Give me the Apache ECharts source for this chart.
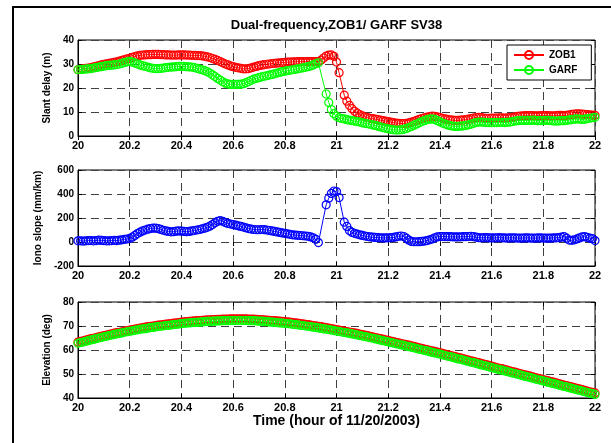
<!DOCTYPE html>
<html>
<head>
<meta charset="utf-8">
<script src="https://cdn.jsdelivr.net/npm/echarts@6/dist/echarts.min.js"></script>
<style>
html, body { margin: 0; padding: 0; background: #fff; }
#chart { width: 611px; height: 443px; }
</style>
</head>
<body>
<div id="chart"></div>
<script>
// Samples every 0.01 h from 20.00 to 22.00 (201 samples); null = no sample
const startHour = 20;
const stepHour = 0.01;
const sampleCount = 201;

const slantZOB1 = [
  27.6,27.8,28.0,28.2,28.3,28.5,28.8,29.0,29.3,29.6,29.9,
  30.1,30.3,30.5,30.7,30.9,31.2,31.5,31.8,32.1,32.4,
  32.8,33.1,33.4,33.6,33.7,33.8,33.9,33.9,34.0,34.0,
  34.0,33.9,33.9,33.8,33.8,33.7,33.7,33.7,33.8,33.8,
  33.8,33.7,33.7,33.6,33.6,33.5,33.5,33.4,33.2,33.0,
  32.7,32.3,31.9,31.5,31.0,30.5,30.0,29.6,29.2,28.9,
  28.6,28.4,28.2,28.0,28.0,28.1,28.4,28.7,29.0,29.3,
  29.5,29.7,29.9,30.0,30.2,30.3,30.4,30.5,30.6,30.7,
  30.8,30.8,30.9,30.9,31.0,31.0,31.0,31.0,31.0,31.0,
  31.0,31.0,31.0,31.6,32.5,33.3,33.7,33.8,33.2,30.8,
  26.4,null,17.0,14.5,12.8,11.4,10.3,9.5,8.9,8.4,
  8.0,7.7,7.4,7.2,7.0,6.8,6.6,6.4,6.2,6.0,
  5.8,5.6,5.4,5.3,5.2,5.2,5.3,5.5,5.8,6.1,
  6.5,6.9,7.3,7.6,7.9,8.1,8.3,8.2,8.0,7.7,
  7.4,7.1,6.9,6.7,6.6,6.5,6.5,6.6,6.7,6.8,
  7.0,7.2,7.5,7.7,7.8,7.7,7.5,7.4,7.4,7.5,
  7.5,7.5,7.6,7.6,7.5,7.6,7.7,7.8,8.0,8.2,
  8.3,8.4,8.5,8.5,8.5,8.5,8.4,8.4,8.5,8.5,
  8.5,8.5,8.4,8.4,8.5,8.6,8.6,8.5,8.6,8.8,
  9.0,9.1,9.2,9.2,9.1,9.0,8.9,8.8,8.7,8.6
];

const slantGARF = [
  27.6,27.7,27.8,27.9,28.0,28.1,28.3,28.5,28.7,28.9,29.1,
  29.3,29.4,29.5,29.6,29.8,30.0,30.3,30.6,30.9,31.1,
  30.8,30.4,30.0,29.6,29.3,29.0,28.7,28.4,28.2,28.1,
  28.1,28.2,28.3,28.5,28.6,28.7,28.8,28.9,29.0,29.0,
  29.0,28.9,28.8,28.7,28.5,28.2,27.9,27.6,27.2,26.8,
  26.2,25.5,24.8,24.0,23.3,22.6,22.0,21.7,21.5,21.5,
  21.5,21.5,21.6,21.8,22.2,22.7,23.2,23.7,24.0,24.3,
  24.6,24.9,25.1,25.4,25.6,25.9,26.2,26.5,26.8,27.0,
  27.2,27.4,27.6,27.8,28.0,28.2,28.4,28.6,28.9,29.2,
  29.6,30.1,30.5,null,null,17.5,14.0,11.0,9.3,8.2,
  7.6,7.3,7.1,6.8,6.6,6.4,6.2,6.0,5.8,5.5,
  5.3,5.1,4.9,4.6,4.4,4.1,3.8,3.5,3.2,3.0,
  2.8,2.6,2.5,2.5,2.6,2.8,3.1,3.5,4.0,4.5,
  5.0,5.5,6.0,6.4,6.8,7.0,7.1,6.9,6.4,5.9,
  5.4,5.0,4.6,4.3,4.1,4.0,4.0,4.1,4.2,4.4,
  4.6,4.9,5.3,5.6,5.8,5.8,5.7,5.6,5.6,5.6,
  5.6,5.6,5.7,5.7,5.6,5.7,5.8,6.0,6.2,6.4,
  6.5,6.5,6.5,6.5,6.5,6.6,6.5,6.4,6.4,6.5,
  6.5,6.5,6.4,6.3,6.2,6.3,6.4,6.4,6.5,6.7,
  6.8,7.0,7.1,7.0,6.9,7.0,7.2,7.4,7.6,7.8
];

const ionoSlope = [
  10,10,8,10,12,12,10,12,15,14,12,
  10,10,12,14,12,15,18,22,25,30,
  40,55,70,82,92,100,107,112,115,115,
  112,105,98,92,88,85,86,90,92,90,
  88,86,88,92,96,100,104,110,115,122,
  132,145,160,172,178,172,162,155,150,145,
  140,135,130,124,118,112,108,104,102,102,
  104,103,100,96,92,88,84,80,76,72,
  68,64,60,58,56,54,52,50,48,42,
  35,22,-5,null,null,310,365,405,425,420,
  370,null,165,130,95,80,72,66,60,55,
  50,46,42,40,38,36,35,34,34,35,
  36,38,42,48,50,46,32,15,5,2,
  2,3,5,8,12,18,25,35,42,46,
  46,45,44,44,43,42,42,43,44,44,
  46,48,44,40,36,35,36,36,35,34,
  34,35,36,35,34,33,34,35,34,33,
  32,33,34,34,33,32,33,34,34,33,
  32,32,33,34,35,36,40,45,32,16,
  14,18,26,34,42,44,38,32,28,12
];

const elevZOB1 = [
  63.3,63.6,63.8,64.1,64.4,64.7,64.9,65.2,65.5,65.7,66.0,
  66.2,66.5,66.7,67.0,67.2,67.4,67.6,67.9,68.1,68.3,
  68.5,68.7,68.9,69.1,69.3,69.5,69.7,69.9,70.0,70.2,
  70.4,70.5,70.6,70.8,70.9,71.0,71.2,71.3,71.4,71.6,
  71.7,71.8,71.9,72.0,72.1,72.2,72.3,72.4,72.5,72.6,
  72.6,72.7,72.7,72.8,72.8,72.9,72.9,72.9,73.0,73.0,
  73.0,73.0,73.0,73.0,73.0,72.9,72.9,72.9,72.8,72.7,
  72.7,72.6,72.5,72.4,72.3,72.2,72.1,72.0,71.9,71.8,
  71.7,71.6,71.4,71.3,71.2,71.0,70.9,70.7,70.6,70.4,
  70.2,70.1,69.9,69.7,69.5,69.3,69.1,68.9,68.7,68.5,
  68.3,68.1,67.9,67.7,67.5,67.3,67.1,66.9,66.6,66.4,
  66.2,66.0,65.7,65.5,65.2,65.0,64.7,64.5,64.2,64.0,
  63.7,63.5,63.2,63.0,62.7,62.5,62.2,62.0,61.7,61.5,
  61.2,60.9,60.7,60.4,60.2,59.9,59.6,59.4,59.1,58.9,
  58.6,58.3,58.0,57.8,57.5,57.2,56.9,56.7,56.4,56.1,
  55.8,55.5,55.3,55.0,54.7,54.4,54.1,53.9,53.6,53.3,
  53.0,52.7,52.4,52.2,51.9,51.6,51.3,51.0,50.8,50.5,
  50.2,49.9,49.6,49.4,49.1,48.8,48.5,48.2,48.0,47.7,
  47.4,47.1,46.8,46.6,46.3,46.0,45.7,45.4,45.2,44.9,
  44.6,44.3,44.0,43.8,43.5,43.2,42.9,42.6,42.4,42.1
];

const elevGARF = [
  62.8,63.1,63.3,63.6,63.9,64.2,64.4,64.7,65.0,65.2,65.5,
  65.7,66.0,66.2,66.5,66.7,66.9,67.1,67.4,67.6,67.8,
  68.0,68.2,68.4,68.6,68.8,68.9,69.1,69.3,69.4,69.6,
  69.8,69.9,70.0,70.2,70.3,70.4,70.6,70.7,70.8,71.0,
  71.1,71.2,71.3,71.4,71.5,71.5,71.6,71.7,71.8,71.9,
  71.9,72.0,72.0,72.1,72.1,72.2,72.2,72.2,72.3,72.3,
  72.3,72.3,72.3,72.3,72.3,72.2,72.2,72.2,72.1,72.0,
  72.0,71.9,71.8,71.7,71.6,71.5,71.4,71.3,71.2,71.1,
  71.0,70.9,70.7,70.6,70.5,70.3,70.2,70.0,69.9,69.7,
  69.5,69.4,69.2,69.0,68.8,68.7,68.5,68.3,68.1,67.9,
  67.7,67.5,67.3,67.1,66.9,66.7,66.5,66.3,66.0,65.8,
  65.6,65.4,65.1,64.9,64.6,64.4,64.1,63.9,63.6,63.4,
  63.1,62.9,62.6,62.4,62.1,61.9,61.6,61.4,61.1,60.9,
  60.6,60.3,60.1,59.8,59.6,59.3,59.0,58.8,58.5,58.3,
  58.0,57.7,57.4,57.2,56.9,56.6,56.3,56.1,55.8,55.5,
  55.2,54.9,54.7,54.4,54.1,53.8,53.5,53.3,53.0,52.7,
  52.4,52.1,51.8,51.6,51.3,51.0,50.7,50.4,50.2,49.9,
  49.6,49.3,49.0,48.8,48.5,48.2,47.9,47.6,47.4,47.1,
  46.8,46.5,46.2,46.0,45.7,45.4,45.1,44.8,44.6,44.3,
  44.0,43.7,43.4,43.2,42.9,42.6,42.3,42.0,41.8,41.5
];

const hourTicks = { min: 20, max: 22, interval: 0.2 };
const slantTicks = { min: 0, max: 40, interval: 10 };
const ionoTicks = { min: -200, max: 600, interval: 200 };
const elevTicks = { min: 40, max: 80, interval: 10 };

const titleText = 'Dual-frequency,ZOB1/ GARF SV38';
const timeLabel = 'Time (hour of 11/20/2003)';
const seriesNames = ['ZOB1', 'GARF'];

// ---- drawing ----
const FONT = '"Liberation Sans", Arial, Helvetica, sans-serif';
const hours = [];
for (let i = 0; i < sampleCount; i++) hours.push(+(startHour + i * stepHour).toFixed(2));

function points(vals) {
  const out = [];
  vals.forEach((v, i) => { if (v !== null) out.push([hours[i], v]); });
  return out;
}

const GRID_LEFT = 78, GRID_W = 517, GRID_H = 96;
const gridTops = [40, 170, 302];
const tickStyle = { show: true, inside: true, length: 4, lineStyle: { color: '#000' } };
const gridDash = { show: true, lineStyle: { color: '#404040', width: 1, type: [8, 5] } };

function xAxisFor(gi, withName) {
  const ax = {
    type: 'value', gridIndex: gi,
    min: hourTicks.min, max: hourTicks.max, interval: hourTicks.interval,
    axisLine: { show: true, onZero: false, lineStyle: { color: '#000', width: 1 } },
    axisTick: tickStyle,
    axisLabel: {
      color: '#000', fontWeight: 'bold', fontSize: 11, fontFamily: FONT, margin: 4,
      formatter: v => String(+v.toFixed(1))
    },
    splitLine: gridDash
  };
  if (withName) {
    ax.name = timeLabel;
    ax.nameLocation = 'middle';
    ax.nameGap = 16;
    ax.nameTextStyle = { color: '#000', fontWeight: 'bold', fontSize: 14, fontFamily: FONT };
  }
  return ax;
}

// tick marks along the top edge of each box
function xTopFor(gi) {
  return {
    type: 'value', gridIndex: gi, position: 'top',
    min: hourTicks.min, max: hourTicks.max, interval: hourTicks.interval,
    axisLine: { show: false }, axisTick: tickStyle,
    axisLabel: { show: false }, splitLine: { show: false }
  };
}

function yAxisFor(gi, ticks, name) {
  return {
    type: 'value', gridIndex: gi,
    min: ticks.min, max: ticks.max, interval: ticks.interval,
    name: name, nameLocation: 'middle', nameRotate: 90, nameGap: 23,
    nameTextStyle: { color: '#000', fontWeight: 'bold', fontSize: 10, fontFamily: FONT },
    axisLine: { show: true, onZero: false, lineStyle: { color: '#000', width: 1 } },
    axisTick: tickStyle,
    axisLabel: { color: '#000', fontWeight: 'bold', fontSize: 10, fontFamily: FONT, margin: 4 },
    splitLine: gridDash
  };
}

// tick marks along the right edge of each box
function yRightFor(gi, ticks) {
  return {
    type: 'value', gridIndex: gi, position: 'right',
    min: ticks.min, max: ticks.max, interval: ticks.interval,
    axisLine: { show: false }, axisTick: tickStyle,
    axisLabel: { show: false }, splitLine: { show: false }
  };
}

function lineSeries(name, gi, vals, color, z) {
  return {
    type: 'line', name: name, xAxisIndex: gi, yAxisIndex: gi,
    data: points(vals),
    symbol: 'circle', symbolSize: 8, showSymbol: true, showAllSymbol: true,
    itemStyle: { color: 'rgba(0,0,0,0)', borderColor: color, borderWidth: 1.2 },
    lineStyle: { color: color, width: 1 },
    emphasis: { disabled: true },
    silent: true, z: z
  };
}

const chart = echarts.init(document.getElementById('chart'), null, { renderer: 'canvas' });
chart.setOption({
  animation: false,
  backgroundColor: '#fff',
  title: {
    text: titleText, left: GRID_LEFT + GRID_W / 2, top: 19, textAlign: 'center', padding: 0,
    textStyle: { color: '#000', fontWeight: 'bold', fontSize: 13, fontFamily: FONT }
  },
  graphic: [{
    type: 'rect', silent: true, z: 100,
    shape: { x: 13, y: 7, width: 700, height: 600 },
    style: { fill: 'none', stroke: '#000', lineWidth: 2 }
  }],
  legend: {
    data: seriesNames, orient: 'vertical', left: 507, top: 45,
    itemWidth: 30, itemHeight: 10, itemGap: 5,
    padding: [5, 14, 5, 6],
    backgroundColor: '#fff', borderColor: '#000', borderWidth: 1,
    textStyle: { color: '#000', fontWeight: 'bold', fontSize: 10, fontFamily: FONT },
    selectedMode: false, z: 10
  },
  grid: gridTops.map(t => ({
    left: GRID_LEFT, top: t, width: GRID_W, height: GRID_H,
    show: true, borderColor: '#000', borderWidth: 1, backgroundColor: '#fff'
  })),
  xAxis: [
    xAxisFor(0, false), xAxisFor(1, false), xAxisFor(2, true),
    xTopFor(0), xTopFor(1), xTopFor(2)
  ],
  yAxis: [
    yAxisFor(0, slantTicks, 'Slant delay (m)'),
    yAxisFor(1, ionoTicks, 'Iono slope (mm/km)'),
    yAxisFor(2, elevTicks, 'Elevation (deg)'),
    yRightFor(0, slantTicks), yRightFor(1, ionoTicks), yRightFor(2, elevTicks)
  ],
  series: [
    lineSeries(seriesNames[0], 0, slantZOB1, '#ff0000', 2),
    lineSeries(seriesNames[1], 0, slantGARF, '#00ff00', 3),
    lineSeries('Iono slope', 1, ionoSlope, '#0000ff', 2),
    lineSeries(seriesNames[0], 2, elevZOB1, '#ff0000', 2),
    lineSeries(seriesNames[1], 2, elevGARF, '#00ff00', 3)
  ]
});
</script>
</body>
</html>
